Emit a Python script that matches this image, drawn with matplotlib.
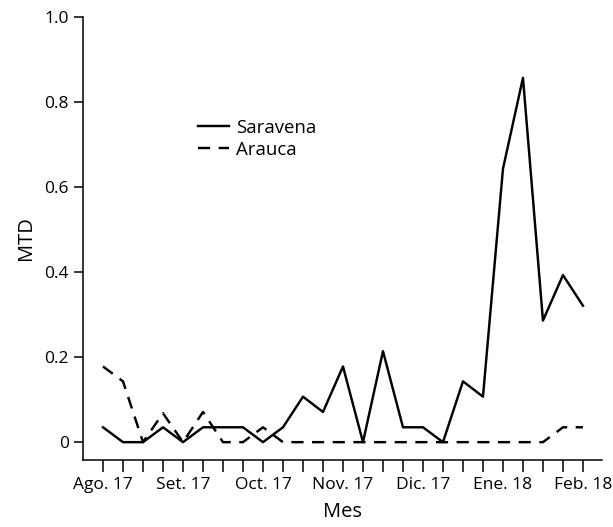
import matplotlib
matplotlib.use("Agg")
import matplotlib.pyplot as plt

plt.rcParams['font.family'] = ['Open Sans', 'DejaVu Sans']

# Semanas (índice de muestreo) y valores de MTD
semana = list(range(25))
saravena = [0.035, 0.0, 0.0, 0.035, 0.0, 0.035, 0.035, 0.035, 0.0, 0.035,
            0.107, 0.071, 0.178, 0.0, 0.214, 0.035, 0.035, 0.0, 0.143, 0.107,
            0.643, 0.857, 0.286, 0.393, 0.321]
arauca = [0.178, 0.143, 0.0, 0.068, 0.0, 0.071, 0.0, 0.0, 0.035, 0.0,
          0.0, 0.0, 0.0, 0.0, 0.0, 0.0, 0.0, 0.0, 0.0, 0.0,
          0.0, 0.0, 0.0, 0.035, 0.035]
mes_pos = [0, 4, 8, 12, 16, 20, 24]
mes_labels = ['Ago. 17', 'Set. 17', 'Oct. 17', 'Nov. 17', 'Dic. 17', 'Ene. 18', 'Feb. 18']
y_ticks = [0, 0.2, 0.4, 0.6, 0.8, 1.0]
y_labels = ['0', '0.2', '0.4', '0.6', '0.8', '1.0']

fig = plt.figure(figsize=(6.13, 5.27), dpi=100)
ax = fig.add_axes([0.1354, 0.1271, 0.8466, 0.8406])

ax.plot(semana, saravena, color='black', lw=1.75, label='Saravena')
ax.plot(semana, arauca, color='black', lw=1.75, dashes=(5, 3.5), label='Arauca')

ax.set_xlim(-1, 24.95)
ax.set_ylim(-0.042, 1.0)
ax.set_xticks(semana)
ax.set_xticklabels([mes_labels[mes_pos.index(i)] if i in mes_pos else '' for i in semana])
ax.set_yticks(y_ticks)
ax.set_yticklabels(y_labels)

for s in ['top', 'right']:
    ax.spines[s].set_visible(False)
for s in ['left', 'bottom']:
    ax.spines[s].set_linewidth(1.1)

ax.tick_params(axis='x', length=8.5, width=1.1, pad=4, labelsize=12.5)
ax.tick_params(axis='y', length=6.5, width=1.1, pad=3.5, labelsize=12.5)

ax.set_xlabel('Mes', fontsize=14.5, labelpad=6)
ax.set_ylabel('MTD', fontsize=14.5, labelpad=6)

ax.legend(loc='upper left', bbox_to_anchor=(0.207, 0.787), frameon=False, fontsize=13.4,
          handlelength=1.65, handletextpad=0.42, labelspacing=0.2, borderaxespad=0)

fig.savefig('out.png', dpi=100)
